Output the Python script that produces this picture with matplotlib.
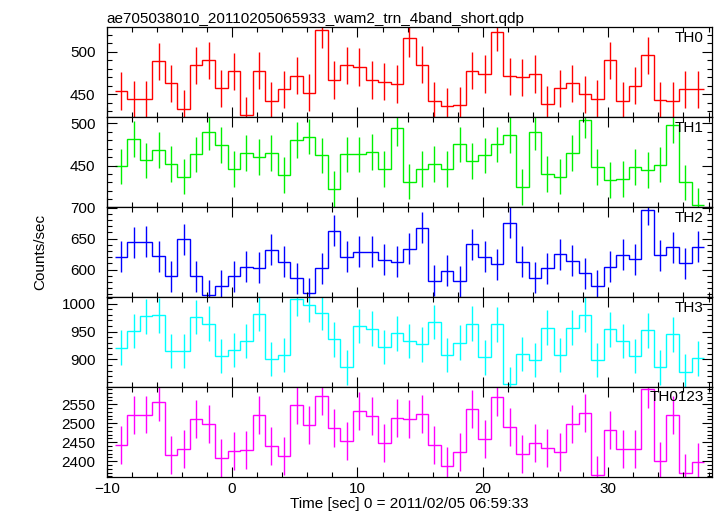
import numpy as np
import matplotlib
matplotlib.use("Agg")
import matplotlib.pyplot as plt
from matplotlib.ticker import MultipleLocator

plt.rcParams['font.family'] = ['Liberation Sans', 'DejaVu Sans']

# 1 s bins, time relative to 2011/02/05 06:59:33
t_start = -9.36
bin_width = 1.0

th0 = [454, 444, 444, 489, 463, 433, 484, 490, 457, 477, 425, 478, 442, 456, 472, 452,
       526, 467, 484, 482, 467, 465, 462, 516, 485, 442, 436, 437, 478, 474, 523, 471,
       470, 474, 438, 457, 463, 450, 445, 490, 442, 460, 496, 443, 442, 456, 456]
th1 = [449, 481, 456, 468, 452, 437, 463, 489, 474, 446, 465, 460, 465, 439, 480, 484,
       462, 422, 463, 463, 466, 446, 494, 431, 446, 452, 446, 475, 455, 462, 475, 486,
       425, 489, 440, 437, 465, 504, 448, 433, 434, 448, 445, 451, 498, 430, 403]
th2 = [621, 644, 645, 622, 589, 649, 589, 559, 574, 589, 605, 603, 632, 613, 586, 562,
       602, 663, 621, 629, 629, 616, 613, 634, 668, 582, 598, 581, 641, 621, 609, 676,
       613, 587, 602, 625, 614, 594, 574, 605, 624, 617, 697, 623, 636, 610, 637]
th3 = [921, 951, 977, 979, 915, 915, 976, 964, 906, 917, 933, 982, 901, 908, 1008, 998,
       983, 936, 886, 960, 955, 922, 947, 933, 927, 967, 908, 930, 964, 904, 963, 856,
       910, 899, 957, 908, 957, 980, 899, 954, 933, 906, 952, 886, 945, 878, 902]
th0123 = [2443, 2522, 2523, 2556, 2417, 2433, 2511, 2498, 2409, 2427, 2429, 2522, 2440,
          2414, 2548, 2496, 2572, 2488, 2454, 2532, 2518, 2449, 2515, 2512, 2525, 2442,
          2388, 2423, 2538, 2459, 2568, 2489, 2418, 2447, 2435, 2425, 2498, 2527, 2364,
          2481, 2432, 2431, 2591, 2401, 2521, 2370, 2398]

bands = ['TH0', 'TH1', 'TH2', 'TH3', 'TH0123']
series = [th0, th1, th2, th3, th0123]
errors = [22, 21, 25, 31, 50]
colors = ['#ff0000', '#00f000', '#0000ff', '#00ffff', '#ff00ff']
ylims = [(423, 529), (401, 507), (556, 701), (851, 1012), (2359, 2596)]

fig = plt.figure(figsize=(7.17, 5.16), dpi=100)
left, right = 106.7 / 717, 711.7 / 717
top, bottom = 1 - 27.3 / 516, 1 - 476.7 / 516
h = (top - bottom) / 5

axes = []
for i, (name, vals, err, col, yl) in enumerate(zip(bands, series, errors, colors, ylims)):
    ax = fig.add_axes([left, top - (i + 1) * h, right - left, h])
    vals = np.array(vals, dtype=float)
    edges = t_start + bin_width * np.arange(len(vals) + 1)
    centers = edges[:-1] + bin_width / 2
    ax.stairs(vals, edges, baseline=None, color=col, lw=1.0)
    ax.errorbar(centers, vals, yerr=err, fmt='none', ecolor=col, elinewidth=1.0, capsize=0)
    ax.set_xlim(-10, 38.25)
    ax.set_ylim(*yl)
    ax.xaxis.set_major_locator(MultipleLocator(10))
    ax.xaxis.set_minor_locator(MultipleLocator(2))
    ax.yaxis.set_major_locator(MultipleLocator(50))
    ax.yaxis.set_minor_locator(MultipleLocator(10))
    ax.tick_params(which='both', direction='in', top=True, right=True, labelsize=11)
    ax.tick_params(which='major', length=7, width=0.8)
    ax.tick_params(which='minor', length=3.5, width=0.8)
    ax.tick_params(axis='y', pad=8)
    for s in ax.spines.values():
        s.set_linewidth(0.9)
    ax.text(0.987, 0.96, name, transform=ax.transAxes, ha='right', va='top', fontsize=11)
    if i < 4:
        ax.tick_params(labelbottom=False)
    axes.append(ax)

axes[0].set_title('ae705038010_20110205065933_wam2_trn_4band_short.qdp',
                  loc='left', fontsize=11, pad=3)
axes[-1].set_xlabel('Time [sec] 0 = 2011/02/05 06:59:33', fontsize=11, labelpad=1)
fig.text(40 / 717, 1 - 252 / 516, 'Counts/sec', rotation=90, ha='center', va='center',
         fontsize=11)

fig.savefig('out.png', dpi=100)
